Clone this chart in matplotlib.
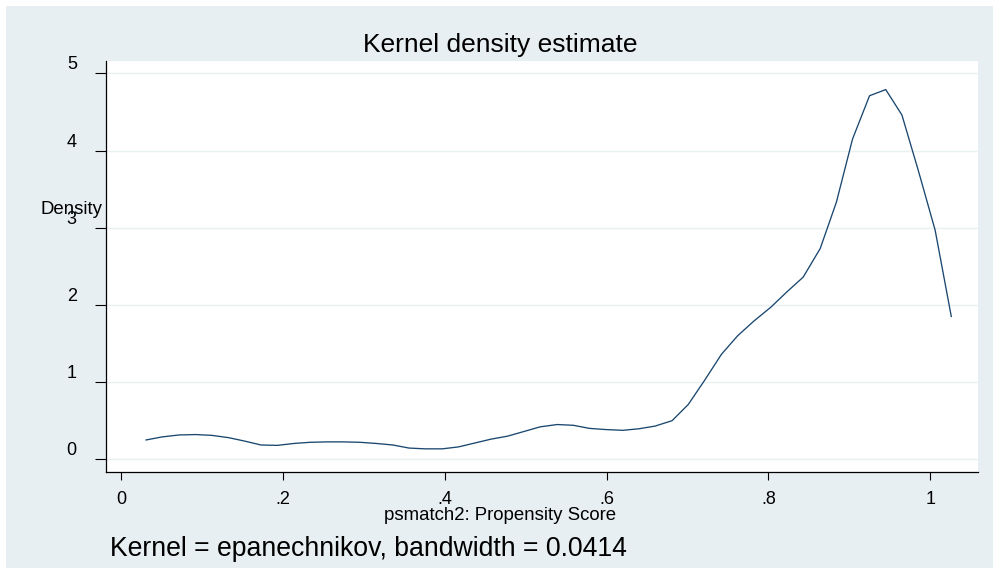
import matplotlib
matplotlib.use("Agg")
import matplotlib.pyplot as plt
from matplotlib.patches import Rectangle

plt.rcParams['font.family'] = ['Liberation Sans', 'DejaVu Sans']

# Kernel density estimate evaluated at 50 points
score = [0.031, 0.051, 0.072, 0.092, 0.112, 0.133, 0.153, 0.173, 0.193, 0.214,
         0.234, 0.254, 0.275, 0.295, 0.315, 0.336, 0.356, 0.376, 0.397, 0.417,
         0.437, 0.457, 0.478, 0.498, 0.518, 0.539, 0.559, 0.579, 0.599, 0.620,
         0.640, 0.660, 0.681, 0.701, 0.721, 0.742, 0.762, 0.782, 0.803, 0.823,
         0.843, 0.864, 0.884, 0.904, 0.925, 0.945, 0.965, 0.985, 1.006, 1.026]
density = [0.25, 0.29, 0.315, 0.32, 0.31, 0.28, 0.235, 0.185, 0.18, 0.205,
           0.22, 0.225, 0.225, 0.22, 0.205, 0.185, 0.145, 0.135, 0.135, 0.16,
           0.21, 0.26, 0.30, 0.36, 0.42, 0.45, 0.44, 0.40, 0.385, 0.375,
           0.395, 0.43, 0.50, 0.71, 1.02, 1.36, 1.60, 1.79, 1.97, 2.17,
           2.36, 2.73, 3.33, 4.15, 4.71, 4.79, 4.46, 3.75, 2.97, 1.85]

x_ticks = [0, 0.2, 0.4, 0.6, 0.8, 1.0]
x_tick_labels = ["0", ".2", ".4", ".6", ".8", "1"]
y_ticks = [0, 1, 2, 3, 4, 5]
y_tick_labels = ["0", "1", "2", "3", "4", "5"]

title = "Kernel density estimate"
x_label = "psmatch2: Propensity Score"
y_label = "Density"
note = "Kernel = epanechnikov, bandwidth = 0.0414"

W, H = 993, 568
fig = plt.figure(figsize=(W / 100, H / 100), dpi=100)
fig.patch.set_facecolor("white")

bg = "#e8eff2"
fig.patches.append(Rectangle((6 / W, 0), 1 - 6 / W, 1 - 6 / H,
                             transform=fig.transFigure, facecolor=bg,
                             edgecolor="none", zorder=-10))

ax = fig.add_axes([106 / W, 1 - 472 / H, (978 - 106) / W, (472 - 61) / H])
ax.set_facecolor("white")

ax.plot(score, density, color="#1a476f", lw=0.95)

ax.set_xlim(-0.0185, 1.059)
ax.set_ylim(-0.165, 5.16)

ax.set_xticks(x_ticks)
ax.set_xticklabels(x_tick_labels)
ax.set_yticks(y_ticks)
ax.set_yticklabels(y_tick_labels)

for s in ["top", "right"]:
    ax.spines[s].set_visible(False)
for s in ["left", "bottom"]:
    ax.spines[s].set_color("black")
    ax.spines[s].set_linewidth(0.9)

ax.grid(axis="y", color="#eaf1f3", lw=1.0)
ax.set_axisbelow(True)

ax.tick_params(axis="x", direction="out", length=6, width=0.8, colors="black",
               labelsize=13, pad=8)
ax.tick_params(axis="y", direction="out", length=8, width=0.8, colors="black",
               labelsize=13, pad=13)
for lbl in ax.get_yticklabels():
    lbl.set_va("bottom")

fig.text(500 / W, 1 - 52 / H, title, ha="center", va="baseline", fontsize=19)
fig.text(500 / W, 1 - 520 / H, x_label, ha="center", va="baseline", fontsize=13.4)
fig.text(40 / W, 1 - 214 / H, y_label, ha="left", va="baseline", fontsize=13.4)
fig.text(110 / W, 1 - 556 / H, note, ha="left", va="baseline", fontsize=19.2)

fig.savefig("out.png", dpi=100, facecolor=fig.get_facecolor())
